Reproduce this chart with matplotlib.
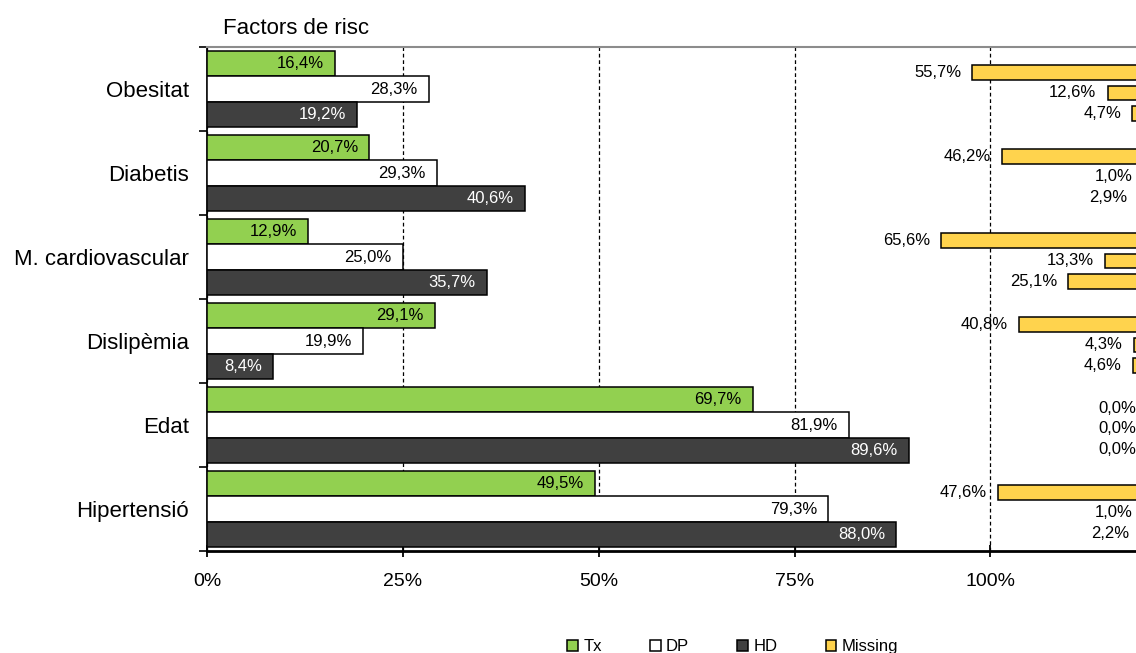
import numpy as np
import matplotlib
matplotlib.use("Agg")
import matplotlib.pyplot as plt

plt.rcParams['font.family'] = ['Liberation Sans', 'DejaVu Sans']

# dades
categories = ['Obesitat', 'Diabetis', 'M. cardiovascular', 'Dislipèmia', 'Edat', 'Hipertensió']
tx = [16.4, 20.7, 12.9, 29.1, 69.7, 49.5]
dp = [28.3, 29.3, 25.0, 19.9, 81.9, 79.3]
hd = [19.2, 40.6, 35.7, 8.4, 89.6, 88.0]
# missing per categoria: Tx, DP, HD
missing_tx = [55.7, 46.2, 65.6, 40.8, 0.0, 47.6]
missing_dp = [12.6, 1.0, 13.3, 4.3, 0.0, 1.0]
missing_hd = [4.7, 2.9, 25.1, 4.6, 0.0, 2.2]
xticks = [0, 25, 50, 75, 100]


def fmt(v):
    return f'{v:.1f}%'.replace('.', ',')


fig = plt.figure(figsize=(11.36, 6.53), dpi=100)
ax = fig.add_axes([207 / 1136, 1 - 551 / 653, 940 / 1136, 504 / 653])

y = np.arange(len(categories))
h = 0.3
series = [(tx, -h, '#92D050', 'black'),
          (dp, 0, 'white', 'black'),
          (hd, h, '#404040', 'white')]
bars = []
for vals, off, col, tcol in series:
    b = ax.barh(y + off, vals, height=h, color=col, edgecolor='black', lw=1.1, zorder=3)
    bars.append(b)
    for yi, v in zip(y + off, vals):
        ax.annotate(fmt(v), xy=(v, yi), xytext=(-8, 0), textcoords='offset points',
                    ha='right', va='center', fontsize=12, color=tcol, zorder=4)

ax.set_xlim(0, 120)
ax.set_ylim(5.5, -0.5)
ax.set_xticks(xticks)
ax.set_xticklabels([f'{t}%' for t in xticks], fontsize=14)
ax.tick_params(axis='x', direction='inout', length=9, width=1.3, pad=11)
ax.set_yticks(np.arange(-0.5, len(categories), 1))
ax.set_yticklabels([])
ax.tick_params(axis='y', which='major', direction='out', length=6, width=1.2)
ax.set_yticks(y, minor=True)
ax.set_yticklabels(categories, minor=True, fontsize=16)
ax.tick_params(axis='y', which='minor', length=0, pad=13)
ax.grid(axis='x', color='black', linestyle=(0, (3, 2.2)), lw=0.9, zorder=1)
ax.spines['top'].set_color('#8c8c8c')
ax.spines['top'].set_linewidth(1.5)
ax.spines['right'].set_visible(False)
ax.spines['left'].set_linewidth(1.3)
ax.spines['bottom'].set_linewidth(2)

# eix secundari per als missing, invertit
ax2 = ax.twiny()
ax2.set_xlim(300, 0)
ax2.set_xticks([])
for s in ax2.spines.values():
    s.set_visible(False)
hm = 0.17
moffs = [-0.195, 0.045, 0.29]
mb = None
for vals, off in zip([missing_tx, missing_dp, missing_hd], moffs):
    mb = ax2.barh(y + off, vals, height=hm, color='#FFD34D', edgecolor='black', lw=1.1, zorder=3)
    for yi, v in zip(y + off, vals):
        ax2.annotate(fmt(v), xy=(v, yi), xytext=(-8, 0), textcoords='offset points',
                     ha='right', va='center', fontsize=12, color='black')
bars.append(mb)

fig.text(223 / 1136, 1 - 28 / 653, 'Factors de risc', fontsize=16, ha='left', va='center')

fig.legend(bars, ['Tx', 'DP', 'HD', 'Missing'], loc='center', bbox_to_anchor=(0.645, 0.01),
           ncol=4, frameon=False, fontsize=12, handlelength=0.65, handleheight=0.65,
           handletextpad=0.3, columnspacing=2.9)

fig.savefig('out.png', dpi=100)
